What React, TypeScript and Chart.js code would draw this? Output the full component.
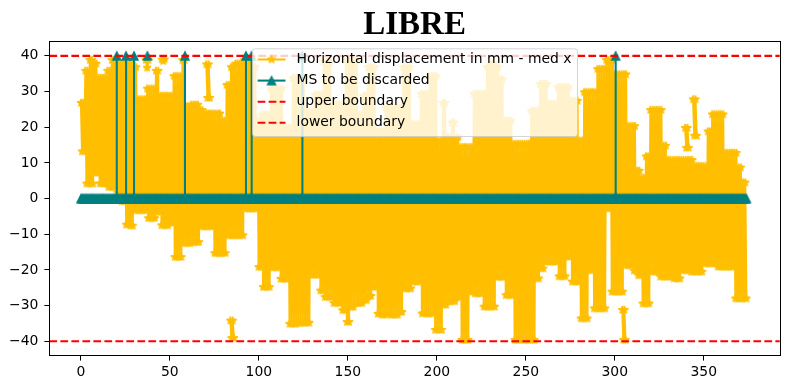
import React, { useEffect, useRef } from "react";
import { Chart, registerables } from "chart.js";

Chart.register(...registerables);

// ---------------- data ----------------
const TITLE = "LIBRE";
const LEGEND_LABELS = [
  "Horizontal displacement in mm - med x",
  "MS to be discarded",
  "upper boundary",
  "lower boundary",
];
const UPPER_BOUNDARY = 40;
const LOWER_BOUNDARY = -40;

const X_TICKS = [0, 50, 100, 150, 200, 250, 300, 350];
const Y_TICKS = [-40, -30, -20, -10, 0, 10, 20, 30, 40];
const X_LIMITS = [-17.65, 392.65];
const Y_LIMITS = [-44, 44];

// The displacement trace is extremely dense: it is recorded here as the
// max / min reached in each sample window (read from the picture).
const SAMPLE_FIRST_X = 1;
const SAMPLE_SPACING = 2.48;
const displacementMax = [
  26.8, 35.8, 38.8, 37.8, 33.8, 33.8, 35.8, 38.8, 37.8, 37.8,
  37.8, 37.8, 36.8, 27.8, 27.8, 30.8, 30.8, 35.8, 28.8, 28.8,
  28.8, 34.3, 34.3, 38.8, 25.8, 26.3, 26.3, 24.8, 23.8, 23.8,
  23.8, 23.8, 21.8, 31.8, 36.8, 37.8, 37.8, 38.8, 38.4, 36.8,
  21.8, 23.5, 23.5, 30.8, 30.8, 30.8, 19.8, 19.8, 33.8, 33.8,
  33.8, 24.4, 24.4, 29.1, 29.1, 38.4, 38.4, 26.3, 26.3, 26.3,
  38.8, 38.8, 38.8, 23.5, 28.8, 36.8, 36.8, 18.8, 18.8, 25.5,
  25.5, 25.5, 25.5, 36.8, 36.8, 20.8, 20.8, 29.3, 29.3, 34.3,
  34.3, 16.2, 26.8, 17.2, 21.3, 17.2, 14.4, 14.4, 14.4, 29.3,
  29.3, 29.3, 36.8, 37.8, 36.8, 33.4, 21.8, 21.8, 15.3, 15.3,
  15.3, 15.3, 24.6, 24.6, 32.1, 32.1, 26.5, 26.5, 31.2, 31.2,
  31.2, 27.4, 27.4, 16.2, 29.8, 29.8, 29.8, 36.3, 36.3, 38.8,
  38.8, 34.8, 34.8, 34.8, 20.3, 20.3, 7.8, 5.8, 11.8, 24.8,
  24.8, 24.8, 14.8, 10.8, 10.8, 10.8, 10.8, 10.8, 10.8, 9.1,
  9.1, 9.1, 18.8, 23.6, 23.6, 23.6, 12.8, 12.8, 12.8, 8.7,
  4.5,
];
const displacementMin = [
  13.2, 4.2, 4.2, 7.2, 4.2, 4.2, 3.2, 3.2, 1.7, -0.8,
  -7.3, -7.6, -3.3, -3.3, -3.3, -5.5, -5.5, -3.8, -7.5, -7.5,
  -6.8, -16.4, -16.4, -12.5, -12.5, -12.2, -12.2, -7.8, -7.8, -7.8,
  -15.3, -15.3, -15.3, -10.3, -10.3, -10.3, -10.3, -2.8, -2.8, -2.8,
  -19.2, -24.8, -24.8, -19.3, -19.3, -22.5, -22.5, -35.1, -35.1, -34.8,
  -34.8, -34.8, -21.4, -21.4, -25.8, -27.6, -27.6, -29.3, -29.3, -31.3,
  -34.6, -30.4, -29.3, -29.3, -28.5, -27.3, -24.8, -32.3, -32.6, -32.3,
  -32.6, -32.6, -31.8, -25.2, -25.2, -23.3, -23.3, -32.2, -32.2, -32.2,
  -36.8, -36.8, -29.8, -28.8, -28.8, -27.6, -39.6, -39.6, -26.1, -26.6,
  -26.6, -30.3, -30.3, -30.3, -22.0, -22.0, -27.1, -27.1, -39.6, -39.6,
  -39.6, -39.6, -39.6, -22.4, -19.6, -17.7, -17.7, -17.7, -21.8, -21.8,
  -16.3, -23.3, -23.3, -33.6, -33.6, -20.1, -30.8, -30.8, -30.8, -2.8,
  -26.1, -26.1, -26.1, -18.7, -18.7, -20.2, -21.5, -29.4, -29.4, -20.5,
  -20.5, -21.9, -21.9, -21.9, -22.4, -22.4, -20.1, -20.1, -20.5, -20.5,
  -20.5, -18.2, -18.2, -18.2, -19.1, -19.1, -19.1, -19.1, -28.0, -28.0,
  -28.0,
];

// detached clusters of the displacement trace
const clusterFromX = [36.5, 45.5, 70.5, 84, 304.2, 339.5, 344];
const clusterToX = [38, 47, 72.5, 86, 306, 341.5, 346];
const clusterMax = [38.8, 39, 37.6, -34.2, -31.2, 19.8, 27.8];
const clusterMin = [36.7, 38.5, 28.2, -39.1, -39.6, 14.2, 17.6];

// measurement stations flagged for discarding
const discardedX = [20.2, 25.4, 29.9, 58.5, 92.8, 95.9, 124.4, 300.5];
const discardedLoneX = [37.4];
const DISCARDED_LEVEL = 40;
const KEPT_LEVEL = 0;

// ---------------- styles ----------------
const AMBER = "#FFBF00";
const TEAL = "#008080";
const RED = "#FF0000";
const TEXT_FAMILY = "'DejaVu Sans', sans-serif";
const TEXT_SIZE = 13.9;
const STROKES_PER_SAMPLE = 4;

type P = { x: number; y: number | null };

function markerCanvas(kind: "star" | "triangle", color: string) {
  const size = 14;
  const c = document.createElement("canvas");
  c.width = size;
  c.height = size;
  const ctx = c.getContext("2d")!;
  const cx = size / 2;
  const cy = size / 2;
  const r = 4.17;
  ctx.beginPath();
  if (kind === "star") {
    for (let k = 0; k < 10; k++) {
      const rr = k % 2 === 0 ? r : r * 0.381966;
      const a = -Math.PI / 2 + (k * Math.PI) / 5;
      ctx.lineTo(cx + rr * Math.cos(a), cy + rr * Math.sin(a));
    }
    ctx.lineJoin = "bevel";
  } else {
    ctx.moveTo(cx, cy - r);
    ctx.lineTo(cx - r, cy + r);
    ctx.lineTo(cx + r, cy + r);
    ctx.lineJoin = "miter";
  }
  ctx.closePath();
  ctx.fillStyle = color;
  ctx.fill();
  ctx.lineWidth = 1.2;
  ctx.strokeStyle = color;
  ctx.stroke();
  return c;
}

function fmt(v: number) {
  return String(v).replace("-", "\u2212");
}

function buildDisplacement(): P[] {
  const pts: P[] = [];
  const sub = SAMPLE_SPACING / STROKES_PER_SAMPLE;
  displacementMax.forEach((hi, i) => {
    const c = SAMPLE_FIRST_X + i * SAMPLE_SPACING;
    const lo = displacementMin[i];
    for (let k = 0; k < STROKES_PER_SAMPLE; k++) {
      pts.push({ x: c + (k - (STROKES_PER_SAMPLE - 1) / 2) * sub, y: k % 2 === 0 ? hi : lo });
    }
  });
  return pts;
}

function buildClusters(): P[] {
  const pts: P[] = [];
  const sub = SAMPLE_SPACING / STROKES_PER_SAMPLE;
  clusterFromX.forEach((x0, j) => {
    const x1 = clusterToX[j];
    const n = Math.max(2, Math.round((x1 - x0) / sub) + 1);
    for (let k = 0; k < n; k++) {
      pts.push({ x: x0 + ((x1 - x0) * k) / (n - 1), y: k % 2 === 0 ? clusterMax[j] : clusterMin[j] });
    }
    pts.push({ x: x1, y: null });
  });
  return pts;
}

function buildDiscarded(base: P[]): P[] {
  const groups: P[][] = base.map((p) => [{ x: p.x, y: KEPT_LEVEL }]);
  discardedX.forEach((x) =>
    groups.push([
      { x, y: KEPT_LEVEL },
      { x, y: DISCARDED_LEVEL },
      { x, y: KEPT_LEVEL },
    ])
  );
  discardedLoneX.forEach((x) =>
    groups.push([
      { x, y: null },
      { x, y: DISCARDED_LEVEL },
      { x, y: null },
    ])
  );
  groups.sort((a, b) => a[0].x - b[0].x);
  return groups.flat();
}

export default function App() {
  const ref = useRef<HTMLCanvasElement>(null);

  useEffect(() => {
    const canvas = ref.current;
    if (!canvas) return;
    const star = markerCanvas("star", AMBER);
    const tri = markerCanvas("triangle", TEAL);
    const disp = buildDisplacement();
    const clusters = buildClusters();
    const discarded = buildDiscarded(disp);

    const overlay = {
      id: "overlay",
      afterDatasetsDraw(chart: any) {
        const { ctx, chartArea: a, scales } = chart;
        ctx.save();
        ctx.strokeStyle = RED;
        ctx.lineWidth = 2.08;
        ctx.setLineDash([7.7, 3.3]);
        ctx.lineCap = "butt";
        [UPPER_BOUNDARY, LOWER_BOUNDARY].forEach((v) => {
          const py = scales.y.getPixelForValue(v);
          ctx.beginPath();
          ctx.moveTo(a.left, py);
          ctx.lineTo(a.right, py);
          ctx.stroke();
        });
        ctx.setLineDash([]);
        ctx.strokeStyle = "#000";
        ctx.lineWidth = 1;
        const l = Math.round(a.left) + 0.5;
        const r = Math.round(a.right) + 0.5;
        const t = Math.floor(a.top) + 0.5;
        const b = Math.floor(a.bottom) + 0.5;
        ctx.strokeRect(l, t, r - l, b - t);
        ctx.restore();
      },
      afterDraw(chart: any) {
        const { ctx, chartArea: a } = chart;
        const cx = (a.left + a.right) / 2;
        ctx.save();
        // title
        ctx.fillStyle = "#000";
        ctx.font = "bold 33px 'Liberation Serif', serif";
        ctx.textAlign = "center";
        ctx.textBaseline = "alphabetic";
        ctx.fillText(TITLE, cx, 33.5);

        // legend
        ctx.font = `${TEXT_SIZE}px ${TEXT_FAMILY}`;
        const textW = Math.max(...LEGEND_LABELS.map((s) => ctx.measureText(s).width));
        const pad = 0.4 * TEXT_SIZE;
        const handle = 2 * TEXT_SIZE;
        const gap = 0.8 * TEXT_SIZE;
        const w = pad + handle + gap + textW + pad;
        const h = 87.7;
        const x0 = cx - w / 2;
        const y0 = a.top + 6.7;
        ctx.beginPath();
        ctx.roundRect(x0 + 0.5, y0 + 0.5, w, h, 2.8);
        ctx.fillStyle = "rgba(255,255,255,0.8)";
        ctx.fill();
        ctx.strokeStyle = "rgba(204,204,204,0.8)";
        ctx.lineWidth = 1;
        ctx.stroke();

        const rows = [11.2, 32.3, 53.5, 74.5];
        const hx0 = x0 + pad;
        const hx1 = hx0 + handle;
        const hmid = (hx0 + hx1) / 2;
        rows.forEach((dy, i) => {
          const y = y0 + dy;
          ctx.save();
          ctx.lineWidth = 2.08;
          if (i === 0 || i === 1) {
            ctx.strokeStyle = i === 0 ? AMBER : TEAL;
            ctx.beginPath();
            ctx.moveTo(hx0, y);
            ctx.lineTo(hx1, y);
            ctx.stroke();
            const img = i === 0 ? star : tri;
            ctx.drawImage(img, hmid - img.width / 2, y - img.height / 2);
          } else {
            ctx.strokeStyle = RED;
            ctx.setLineDash([7.7, 3.3]);
            ctx.beginPath();
            ctx.moveTo(hx0, y);
            ctx.lineTo(hx1, y);
            ctx.stroke();
          }
          ctx.restore();
          ctx.fillStyle = "#000";
          ctx.textAlign = "left";
          ctx.textBaseline = "middle";
          ctx.fillText(LEGEND_LABELS[i], hx1 + gap, y);
        });
        ctx.restore();
      },
    };

    const tickFont = { family: TEXT_FAMILY, size: TEXT_SIZE };
    const gridOpts = {
      display: true,
      drawOnChartArea: false,
      drawTicks: true,
      tickLength: 5,
      tickColor: "#000",
      tickWidth: 1,
    };

    const chart = new Chart(canvas, {
      type: "line",
      data: {
        datasets: [
          {
            label: LEGEND_LABELS[1],
            data: discarded as any,
            borderColor: TEAL,
            backgroundColor: TEAL,
            borderWidth: 2.08,
            pointStyle: tri as any,
            pointRadius: 4,
            tension: 0,
            spanGaps: false,
            order: 0,
            clip: 0,
          } as any,
          {
            label: LEGEND_LABELS[0],
            data: disp as any,
            borderColor: AMBER,
            backgroundColor: AMBER,
            borderWidth: 2.08,
            pointStyle: star as any,
            pointRadius: 4,
            tension: 0,
            spanGaps: false,
            order: 1,
            clip: 0,
          } as any,
          {
            label: "clusters",
            data: clusters as any,
            borderColor: AMBER,
            backgroundColor: AMBER,
            borderWidth: 2.08,
            pointStyle: star as any,
            pointRadius: 4,
            tension: 0,
            spanGaps: false,
            order: 1,
            clip: 0,
          } as any,
        ],
      },
      options: {
        animation: false,
        responsive: false,
        events: [],
        layout: {
          padding: { left: 0, right: 10.3, top: 41.6, bottom: 0 },
          autoPadding: false,
        } as any,
        plugins: {
          legend: { display: false },
          title: { display: false },
          tooltip: { enabled: false },
        },
        scales: {
          x: {
            type: "linear",
            min: X_LIMITS[0],
            max: X_LIMITS[1],
            afterBuildTicks: (s: any) => {
              s.ticks = X_TICKS.map((v) => ({ value: v }));
            },
            afterFit: (s: any) => {
              s.height = 34.4;
            },
            grid: gridOpts,
            border: { display: false },
            ticks: {
              autoSkip: false,
              maxRotation: 0,
              padding: 3,
              color: "#000",
              font: tickFont,
              callback: (v: any) => fmt(v),
            },
          },
          y: {
            type: "linear",
            min: Y_LIMITS[0],
            max: Y_LIMITS[1],
            afterBuildTicks: (s: any) => {
              s.ticks = Y_TICKS.map((v) => ({ value: v }));
            },
            afterFit: (s: any) => {
              s.width = 49.4;
            },
            grid: gridOpts,
            border: { display: false },
            ticks: {
              autoSkip: false,
              padding: 6,
              color: "#000",
              font: tickFont,
              callback: (v: any) => fmt(v),
            },
          },
        },
      } as any,
      plugins: [overlay],
    });

    return () => chart.destroy();
  }, []);

  return (
    <div
      style={{
        position: "fixed",
        left: 0,
        top: 0,
        width: 790,
        height: 390,
        background: "#fff",
      }}
    >
      <canvas
        ref={ref}
        width={790}
        height={390}
        style={{ display: "block", width: 790, height: 390 }}
      />
    </div>
  );
}
